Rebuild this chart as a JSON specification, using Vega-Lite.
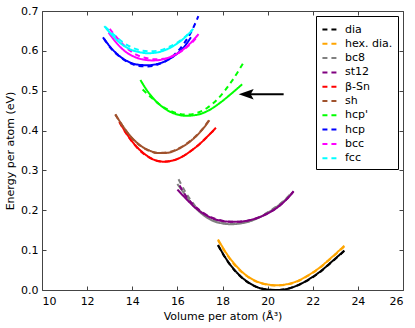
{
  "$schema": "https://vega.github.io/schema/vega-lite/v6.json",
  "autosize": {"type": "none"},
  "padding": {"left": 42, "top": 11, "right": 12, "bottom": 38},
  "width": 361,
  "height": 279,
  "config": {
    "font": "DejaVu Sans",
    "view": {"stroke": "#444", "strokeWidth": 1},
    "axis": {"grid": false, "domain": false, "labelFont": "DejaVu Sans", "titleFont": "DejaVu Sans", "labelFontSize": 11, "titleFontSize": 11, "titleFontWeight": "normal", "labelColor": "#000", "titleColor": "#000", "tickColor": "#444", "tickSize": -4, "tickWidth": 1}
  },
  "datasets": {
    "curves": [
      {"s":"dia","m":"solid","v":17.8,"e":0.113},{"s":"dia","m":"solid","v":18.2,"e":0.075},{"s":"dia","m":"solid","v":18.6,"e":0.046},{"s":"dia","m":"solid","v":19.0,"e":0.025},{"s":"dia","m":"solid","v":19.5,"e":0.008},{"s":"dia","m":"solid","v":20.0,"e":0.001},{"s":"dia","m":"solid","v":20.4,"e":0.0},{"s":"dia","m":"solid","v":20.8,"e":0.002},{"s":"dia","m":"solid","v":21.3,"e":0.011},{"s":"dia","m":"solid","v":21.8,"e":0.026},{"s":"dia","m":"solid","v":22.3,"e":0.045},{"s":"dia","m":"solid","v":22.8,"e":0.069},{"s":"dia","m":"solid","v":23.4,"e":0.099},
      {"s":"dia","m":"dashed","v":17.8,"e":0.112},{"s":"dia","m":"dashed","v":18.2,"e":0.074},{"s":"dia","m":"dashed","v":18.6,"e":0.045},{"s":"dia","m":"dashed","v":19.0,"e":0.024},{"s":"dia","m":"dashed","v":19.5,"e":0.008},{"s":"dia","m":"dashed","v":20.0,"e":0.001},{"s":"dia","m":"dashed","v":20.4,"e":0.0},{"s":"dia","m":"dashed","v":20.8,"e":0.002},{"s":"dia","m":"dashed","v":21.3,"e":0.011},{"s":"dia","m":"dashed","v":21.8,"e":0.025},{"s":"dia","m":"dashed","v":22.3,"e":0.044},{"s":"dia","m":"dashed","v":22.8,"e":0.068},{"s":"dia","m":"dashed","v":23.4,"e":0.098},
      {"s":"hex. dia.","m":"solid","v":17.8,"e":0.127},{"s":"hex. dia.","m":"solid","v":18.2,"e":0.09},{"s":"hex. dia.","m":"solid","v":18.6,"e":0.061},{"s":"hex. dia.","m":"solid","v":19.0,"e":0.039},{"s":"hex. dia.","m":"solid","v":19.5,"e":0.022},{"s":"hex. dia.","m":"solid","v":20.0,"e":0.014},{"s":"hex. dia.","m":"solid","v":20.4,"e":0.012},{"s":"hex. dia.","m":"solid","v":20.8,"e":0.014},{"s":"hex. dia.","m":"solid","v":21.3,"e":0.022},{"s":"hex. dia.","m":"solid","v":21.8,"e":0.037},{"s":"hex. dia.","m":"solid","v":22.3,"e":0.056},{"s":"hex. dia.","m":"solid","v":22.8,"e":0.08},{"s":"hex. dia.","m":"solid","v":23.4,"e":0.111},
      {"s":"hex. dia.","m":"dashed","v":17.8,"e":0.125},{"s":"hex. dia.","m":"dashed","v":18.2,"e":0.088},{"s":"hex. dia.","m":"dashed","v":18.6,"e":0.059},{"s":"hex. dia.","m":"dashed","v":19.0,"e":0.038},{"s":"hex. dia.","m":"dashed","v":19.5,"e":0.021},{"s":"hex. dia.","m":"dashed","v":20.0,"e":0.013},{"s":"hex. dia.","m":"dashed","v":20.4,"e":0.011},{"s":"hex. dia.","m":"dashed","v":20.8,"e":0.013},{"s":"hex. dia.","m":"dashed","v":21.3,"e":0.021},{"s":"hex. dia.","m":"dashed","v":21.8,"e":0.036},{"s":"hex. dia.","m":"dashed","v":22.3,"e":0.055},{"s":"hex. dia.","m":"dashed","v":22.8,"e":0.079},{"s":"hex. dia.","m":"dashed","v":23.4,"e":0.109},
      {"s":"bc8","m":"solid","v":16.0,"e":0.266},{"s":"bc8","m":"solid","v":16.4,"e":0.235},{"s":"bc8","m":"solid","v":16.8,"e":0.206},{"s":"bc8","m":"solid","v":17.2,"e":0.186},{"s":"bc8","m":"solid","v":17.6,"e":0.173},{"s":"bc8","m":"solid","v":18.0,"e":0.167},{"s":"bc8","m":"solid","v":18.4,"e":0.165},{"s":"bc8","m":"solid","v":18.8,"e":0.167},{"s":"bc8","m":"solid","v":19.3,"e":0.174},{"s":"bc8","m":"solid","v":19.8,"e":0.187},{"s":"bc8","m":"solid","v":20.3,"e":0.205},{"s":"bc8","m":"solid","v":20.7,"e":0.222},{"s":"bc8","m":"solid","v":21.05,"e":0.242},
      {"s":"bc8","m":"dashed","v":16.05,"e":0.278},{"s":"bc8","m":"dashed","v":16.4,"e":0.242},{"s":"bc8","m":"dashed","v":16.8,"e":0.21},{"s":"bc8","m":"dashed","v":17.2,"e":0.189},{"s":"bc8","m":"dashed","v":17.6,"e":0.175},{"s":"bc8","m":"dashed","v":18.0,"e":0.168},{"s":"bc8","m":"dashed","v":18.4,"e":0.166},{"s":"bc8","m":"dashed","v":18.8,"e":0.168},{"s":"bc8","m":"dashed","v":19.3,"e":0.175},{"s":"bc8","m":"dashed","v":19.8,"e":0.188},{"s":"bc8","m":"dashed","v":20.3,"e":0.206},{"s":"bc8","m":"dashed","v":20.7,"e":0.223},{"s":"bc8","m":"dashed","v":21.05,"e":0.243},
      {"s":"st12","m":"solid","v":16.0,"e":0.252},{"s":"st12","m":"solid","v":16.4,"e":0.228},{"s":"st12","m":"solid","v":16.8,"e":0.206},{"s":"st12","m":"solid","v":17.2,"e":0.19},{"s":"st12","m":"solid","v":17.6,"e":0.179},{"s":"st12","m":"solid","v":18.0,"e":0.173},{"s":"st12","m":"solid","v":18.5,"e":0.171},{"s":"st12","m":"solid","v":19.0,"e":0.173},{"s":"st12","m":"solid","v":19.5,"e":0.18},{"s":"st12","m":"solid","v":20.0,"e":0.192},{"s":"st12","m":"solid","v":20.5,"e":0.21},{"s":"st12","m":"solid","v":20.85,"e":0.228},{"s":"st12","m":"solid","v":21.15,"e":0.247},
      {"s":"st12","m":"dashed","v":16.1,"e":0.262},{"s":"st12","m":"dashed","v":16.4,"e":0.234},{"s":"st12","m":"dashed","v":16.8,"e":0.209},{"s":"st12","m":"dashed","v":17.2,"e":0.192},{"s":"st12","m":"dashed","v":17.6,"e":0.18},{"s":"st12","m":"dashed","v":18.0,"e":0.174},{"s":"st12","m":"dashed","v":18.5,"e":0.171},{"s":"st12","m":"dashed","v":19.0,"e":0.173},{"s":"st12","m":"dashed","v":19.5,"e":0.18},{"s":"st12","m":"dashed","v":20.0,"e":0.192},{"s":"st12","m":"dashed","v":20.5,"e":0.21},{"s":"st12","m":"dashed","v":20.85,"e":0.228},{"s":"st12","m":"dashed","v":21.15,"e":0.248},
      {"s":"β-Sn","m":"solid","v":13.43,"e":0.422},{"s":"β-Sn","m":"solid","v":13.8,"e":0.388},{"s":"β-Sn","m":"solid","v":14.2,"e":0.359},{"s":"β-Sn","m":"solid","v":14.6,"e":0.339},{"s":"β-Sn","m":"solid","v":15.0,"e":0.326},{"s":"β-Sn","m":"solid","v":15.4,"e":0.322},{"s":"β-Sn","m":"solid","v":15.8,"e":0.325},{"s":"β-Sn","m":"solid","v":16.2,"e":0.334},{"s":"β-Sn","m":"solid","v":16.6,"e":0.349},{"s":"β-Sn","m":"solid","v":17.0,"e":0.367},{"s":"β-Sn","m":"solid","v":17.4,"e":0.389},{"s":"β-Sn","m":"solid","v":17.71,"e":0.407},
      {"s":"β-Sn","m":"dashed","v":13.43,"e":0.421},{"s":"β-Sn","m":"dashed","v":13.8,"e":0.387},{"s":"β-Sn","m":"dashed","v":14.2,"e":0.358},{"s":"β-Sn","m":"dashed","v":14.6,"e":0.338},{"s":"β-Sn","m":"dashed","v":15.0,"e":0.326},{"s":"β-Sn","m":"dashed","v":15.4,"e":0.322},{"s":"β-Sn","m":"dashed","v":15.8,"e":0.325},{"s":"β-Sn","m":"dashed","v":16.2,"e":0.334},{"s":"β-Sn","m":"dashed","v":16.6,"e":0.349},{"s":"β-Sn","m":"dashed","v":17.0,"e":0.367},{"s":"β-Sn","m":"dashed","v":17.4,"e":0.389},{"s":"β-Sn","m":"dashed","v":17.71,"e":0.406},
      {"s":"sh","m":"solid","v":13.25,"e":0.441},{"s":"sh","m":"solid","v":13.6,"e":0.41},{"s":"sh","m":"solid","v":14.0,"e":0.381},{"s":"sh","m":"solid","v":14.4,"e":0.361},{"s":"sh","m":"solid","v":14.8,"e":0.349},{"s":"sh","m":"solid","v":15.1,"e":0.344},{"s":"sh","m":"solid","v":15.5,"e":0.344},{"s":"sh","m":"solid","v":15.9,"e":0.35},{"s":"sh","m":"solid","v":16.3,"e":0.362},{"s":"sh","m":"solid","v":16.7,"e":0.379},{"s":"sh","m":"solid","v":17.1,"e":0.402},{"s":"sh","m":"solid","v":17.42,"e":0.426},
      {"s":"sh","m":"dashed","v":13.25,"e":0.44},{"s":"sh","m":"dashed","v":13.6,"e":0.409},{"s":"sh","m":"dashed","v":14.0,"e":0.38},{"s":"sh","m":"dashed","v":14.4,"e":0.36},{"s":"sh","m":"dashed","v":14.8,"e":0.348},{"s":"sh","m":"dashed","v":15.1,"e":0.344},{"s":"sh","m":"dashed","v":15.5,"e":0.345},{"s":"sh","m":"dashed","v":15.9,"e":0.351},{"s":"sh","m":"dashed","v":16.3,"e":0.363},{"s":"sh","m":"dashed","v":16.7,"e":0.38},{"s":"sh","m":"dashed","v":17.1,"e":0.403},{"s":"sh","m":"dashed","v":17.42,"e":0.427},
      {"s":"hcp'","m":"solid","v":14.36,"e":0.527},{"s":"hcp'","m":"solid","v":14.7,"e":0.497},{"s":"hcp'","m":"solid","v":15.1,"e":0.471},{"s":"hcp'","m":"solid","v":15.5,"e":0.453},{"s":"hcp'","m":"solid","v":15.9,"e":0.442},{"s":"hcp'","m":"solid","v":16.4,"e":0.437},{"s":"hcp'","m":"solid","v":16.9,"e":0.44},{"s":"hcp'","m":"solid","v":17.4,"e":0.451},{"s":"hcp'","m":"solid","v":17.9,"e":0.47},{"s":"hcp'","m":"solid","v":18.4,"e":0.493},{"s":"hcp'","m":"solid","v":18.87,"e":0.516},
      {"s":"hcp'","m":"dashed","v":14.46,"e":0.503},{"s":"hcp'","m":"dashed","v":14.8,"e":0.485},{"s":"hcp'","m":"dashed","v":15.2,"e":0.466},{"s":"hcp'","m":"dashed","v":15.6,"e":0.452},{"s":"hcp'","m":"dashed","v":16.0,"e":0.443},{"s":"hcp'","m":"dashed","v":16.4,"e":0.44},{"s":"hcp'","m":"dashed","v":16.8,"e":0.443},{"s":"hcp'","m":"dashed","v":17.3,"e":0.456},{"s":"hcp'","m":"dashed","v":17.8,"e":0.48},{"s":"hcp'","m":"dashed","v":18.4,"e":0.523},{"s":"hcp'","m":"dashed","v":18.98,"e":0.575},
      {"s":"hcp","m":"solid","v":12.7,"e":0.634},{"s":"hcp","m":"solid","v":13.1,"e":0.605},{"s":"hcp","m":"solid","v":13.5,"e":0.584},{"s":"hcp","m":"solid","v":13.9,"e":0.571},{"s":"hcp","m":"solid","v":14.3,"e":0.565},{"s":"hcp","m":"solid","v":14.7,"e":0.564},{"s":"hcp","m":"solid","v":15.1,"e":0.567},{"s":"hcp","m":"solid","v":15.5,"e":0.575},{"s":"hcp","m":"solid","v":15.9,"e":0.589},{"s":"hcp","m":"solid","v":16.3,"e":0.61},{"s":"hcp","m":"solid","v":16.6,"e":0.634},
      {"s":"hcp","m":"dashed","v":12.75,"e":0.63},{"s":"hcp","m":"dashed","v":13.1,"e":0.603},{"s":"hcp","m":"dashed","v":13.5,"e":0.583},{"s":"hcp","m":"dashed","v":13.9,"e":0.569},{"s":"hcp","m":"dashed","v":14.3,"e":0.562},{"s":"hcp","m":"dashed","v":14.7,"e":0.561},{"s":"hcp","m":"dashed","v":15.1,"e":0.565},{"s":"hcp","m":"dashed","v":15.5,"e":0.575},{"s":"hcp","m":"dashed","v":15.9,"e":0.592},{"s":"hcp","m":"dashed","v":16.3,"e":0.619},{"s":"hcp","m":"dashed","v":16.6,"e":0.646},{"s":"hcp","m":"dashed","v":16.93,"e":0.687},
      {"s":"bcc","m":"solid","v":12.95,"e":0.646},{"s":"bcc","m":"solid","v":13.3,"e":0.62},{"s":"bcc","m":"solid","v":13.7,"e":0.598},{"s":"bcc","m":"solid","v":14.1,"e":0.585},{"s":"bcc","m":"solid","v":14.5,"e":0.578},{"s":"bcc","m":"solid","v":14.9,"e":0.576},{"s":"bcc","m":"solid","v":15.3,"e":0.578},{"s":"bcc","m":"solid","v":15.7,"e":0.585},{"s":"bcc","m":"solid","v":16.1,"e":0.597},{"s":"bcc","m":"solid","v":16.5,"e":0.615},{"s":"bcc","m":"solid","v":16.94,"e":0.642},
      {"s":"bcc","m":"dashed","v":13.0,"e":0.655},{"s":"bcc","m":"dashed","v":13.4,"e":0.628},{"s":"bcc","m":"dashed","v":13.8,"e":0.605},{"s":"bcc","m":"dashed","v":14.2,"e":0.59},{"s":"bcc","m":"dashed","v":14.6,"e":0.582},{"s":"bcc","m":"dashed","v":15.0,"e":0.579},{"s":"bcc","m":"dashed","v":15.4,"e":0.58},{"s":"bcc","m":"dashed","v":15.8,"e":0.587},{"s":"bcc","m":"dashed","v":16.2,"e":0.6},{"s":"bcc","m":"dashed","v":16.6,"e":0.618},{"s":"bcc","m":"dashed","v":16.9,"e":0.637},
      {"s":"fcc","m":"solid","v":12.76,"e":0.662},{"s":"fcc","m":"solid","v":13.1,"e":0.64},{"s":"fcc","m":"solid","v":13.5,"e":0.618},{"s":"fcc","m":"solid","v":13.9,"e":0.604},{"s":"fcc","m":"solid","v":14.3,"e":0.597},{"s":"fcc","m":"solid","v":14.7,"e":0.594},{"s":"fcc","m":"solid","v":15.1,"e":0.596},{"s":"fcc","m":"solid","v":15.5,"e":0.603},{"s":"fcc","m":"solid","v":15.9,"e":0.615},{"s":"fcc","m":"solid","v":16.3,"e":0.632},{"s":"fcc","m":"solid","v":16.66,"e":0.652},
      {"s":"fcc","m":"dashed","v":12.8,"e":0.66},{"s":"fcc","m":"dashed","v":13.2,"e":0.64},{"s":"fcc","m":"dashed","v":13.6,"e":0.621},{"s":"fcc","m":"dashed","v":14.0,"e":0.608},{"s":"fcc","m":"dashed","v":14.4,"e":0.601},{"s":"fcc","m":"dashed","v":14.8,"e":0.599},{"s":"fcc","m":"dashed","v":15.2,"e":0.601},{"s":"fcc","m":"dashed","v":15.6,"e":0.609},{"s":"fcc","m":"dashed","v":16.0,"e":0.621},{"s":"fcc","m":"dashed","v":16.4,"e":0.638},{"s":"fcc","m":"dashed","v":16.7,"e":0.655}
    ],
    "arrow": [{"x1": 19.2, "x2": 20.71, "y": 0.491, "tip": 19.05}]
  },
  "layer": [
    {
      "data": {"name": "curves"},
      "mark": {"type": "line", "strokeWidth": 2, "interpolate": "monotone", "clip": true},
      "encoding": {
        "x": {"field": "v", "type": "quantitative", "scale": {"domain": [10, 26], "nice": false, "zero": false},
          "axis": {"title": "Volume per atom (Å³)", "values": [10,12,14,16,18,20,22,24,26], "labelPadding": 9, "titlePadding": 4, "orient": "bottom"}},
        "y": {"field": "e", "type": "quantitative", "scale": {"domain": [0, 0.7], "nice": false},
          "axis": {"title": "Energy per atom (eV)", "values": [0,0.1,0.2,0.3,0.4,0.5,0.6,0.7], "format": ".1f", "labelPadding": 8, "titlePadding": 5, "orient": "left"}},
        "color": {"field": "s", "type": "nominal",
          "scale": {"domain": ["dia","hex. dia.","bc8","st12","β-Sn","sh","hcp'","hcp","bcc","fcc"],
                    "range": ["#000000","#FFA500","#808080","#800080","#FF0000","#A0522D","#00FF00","#0000FF","#FF00FF","#00FFFF"]},
          "legend": {"title": null, "orient": "top-right", "offset": 5, "symbolType": "stroke", "symbolDash": [5, 4], "symbolStrokeWidth": 2, "symbolSize": 200, "labelFont": "DejaVu Sans", "labelFontSize": 11, "labelColor": "#000", "labelOffset": 7, "rowPadding": 0.3, "padding": 5, "strokeColor": "#000", "fillColor": "#fff", "cornerRadius": 0}},
        "strokeDash": {"field": "m", "type": "nominal", "scale": {"domain": ["solid","dashed"], "range": [[1,0],[5,4]]}, "legend": null},
        "detail": {"field": "m"}
      }
    },
    {
      "data": {"name": "arrow"},
      "mark": {"type": "rule", "color": "#000", "strokeWidth": 2},
      "encoding": {
        "x": {"field": "x1", "type": "quantitative", "axis": {"orient": "top", "labels": false, "title": null, "values": [10,12,14,16,18,20,22,24,26]}},
        "x2": {"field": "x2"},
        "y": {"field": "y", "type": "quantitative", "axis": {"orient": "right", "labels": false, "title": null, "values": [0,0.1,0.2,0.3,0.4,0.5,0.6,0.7]}}
      }
    },
    {
      "data": {"name": "arrow"},
      "mark": {"type": "point", "shape": "M-1,0L1,-0.7L0.6,0L1,0.7Z", "filled": true, "color": "#000", "size": 225, "opacity": 1},
      "encoding": {
        "x": {"field": "tip", "type": "quantitative", "axis": null},
        "y": {"field": "y", "type": "quantitative", "axis": null}
      }
    }
  ],
  "resolve": {"axis": {"x": "independent", "y": "independent"}}
}
